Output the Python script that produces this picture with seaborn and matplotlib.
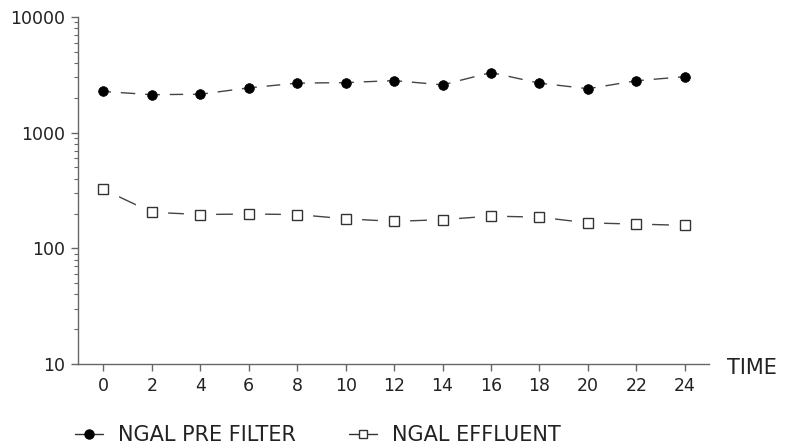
import matplotlib
matplotlib.use("Agg")
import matplotlib.pyplot as plt
from matplotlib.lines import Line2D
from matplotlib.ticker import LogLocator, NullFormatter, FixedLocator, FixedFormatter
import seaborn as sns
import pandas as pd

time = [0, 2, 4, 6, 8, 10, 12, 14, 16, 18, 20, 22, 24]
ngal_pre_filter = [2270, 2130, 2150, 2440, 2680, 2710, 2820, 2590, 3310, 2680, 2400, 2810, 3050]
ngal_effluent = [323, 205, 196, 198, 196, 180, 171, 177, 190, 186, 166, 162, 158]
y_ticks = [10, 100, 1000, 10000]
y_tick_labels = ["10", "100", "1000", "10000"]
x_ticks = time
series_labels = ["NGAL PRE FILTER", "NGAL EFFLUENT"]

sns.set_style("white")
plt.rcParams["font.family"] = ["DejaVu Sans"]

df = pd.DataFrame({"time": time, "pre": ngal_pre_filter, "eff": ngal_effluent})

fig = plt.figure(figsize=(7.86, 4.48), dpi=100)
ax = fig.add_axes([78/786, 1 - 364/448, (709 - 78)/786, (364 - 17)/448])

line_col = "#444444"
sns.lineplot(data=df, x="time", y="pre", ax=ax, color=line_col, lw=1.0, zorder=1)
sns.lineplot(data=df, x="time", y="eff", ax=ax, color=line_col, lw=1.0, zorder=1)

# white halos to make gaps around markers
ax.plot(df["time"], df["pre"], ls="none", marker="o", ms=7, mfc="white", mec="white", mew=18, zorder=2)
ax.plot(df["time"], df["eff"], ls="none", marker="s", ms=7, mfc="white", mec="white", mew=16, zorder=2)
# markers
ax.plot(df["time"], df["pre"], ls="none", marker="o", ms=7, mfc="black", mec="black", mew=0.5, zorder=3)
ax.plot(df["time"], df["eff"], ls="none", marker="s", ms=6.5, mfc="white", mec="#333333", mew=1.0, zorder=3)

ax.set_yscale("log")
ax.set_ylim(10, 10000)
ax.set_xlim(-1.05, 25.0)
ax.yaxis.set_major_locator(FixedLocator(y_ticks))
ax.yaxis.set_major_formatter(FixedFormatter(y_tick_labels))
ax.yaxis.set_minor_locator(LogLocator(base=10, subs=range(2, 10)))
ax.yaxis.set_minor_formatter(NullFormatter())
ax.set_xticks(x_ticks)
ax.set_xticklabels([str(t) for t in x_ticks])
ax.set_xlabel("")
ax.set_ylabel("")

for s in ["top", "right"]:
    ax.spines[s].set_visible(False)
for s in ["left", "bottom"]:
    ax.spines[s].set_color("#666666")
    ax.spines[s].set_linewidth(1.0)

ax.tick_params(axis="both", which="major", direction="out", length=5, width=1,
               color="#666666", labelsize=12.5, labelcolor="#222222", left=True, bottom=True, pad=4)
ax.tick_params(axis="y", which="minor", direction="out", length=3, width=0.8, color="#666666", left=True)

fig.text(727/786, 1 - 368/448, "TIME", ha="left", va="center", fontsize=15, color="#222222")

handles = [
    Line2D([0], [0], color="#333333", lw=1, marker="o", ms=6.5, mfc="black", mec="black"),
    Line2D([0], [0], color="#333333", lw=1, marker="s", ms=6, mfc="white", mec="#333333"),
]
fig.legend(handles, series_labels, loc="center left", bbox_to_anchor=(75/786, 1 - 435/448),
           ncol=2, frameon=False, fontsize=15, handlelength=1.35, handletextpad=0.72,
           columnspacing=2.55, borderpad=0, borderaxespad=0, labelcolor="#222222")

fig.savefig("out.png", dpi=100)
